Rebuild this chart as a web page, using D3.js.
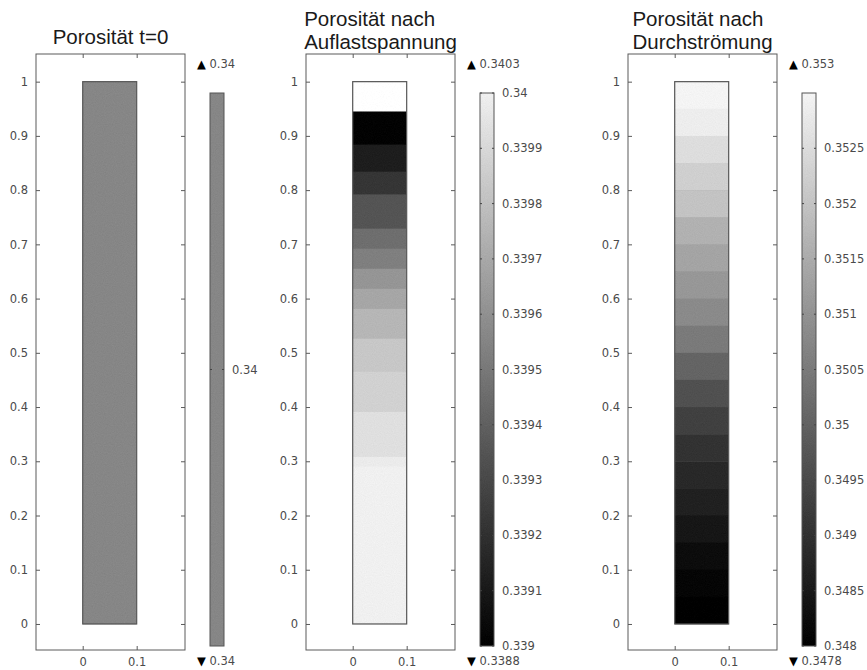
<!DOCTYPE html>
<html><head><meta charset="utf-8">
<script src="https://cdn.jsdelivr.net/npm/d3@7"></script>
<style>
html,body{margin:0;padding:0;background:#fff;}
svg{display:block;}
</style></head>
<body>
<svg id="chart" width="867" height="670"></svg>
<script>
// ---------- data ----------
const titles = [["Porosität t=0"], ["Porosität nach", "Auflastspannung"], ["Porosität nach", "Durchströmung"]];
const yTicks = [0, 0.1, 0.2, 0.3, 0.4, 0.5, 0.6, 0.7, 0.8, 0.9, 1];
const xTicks = [0, 0.1];

// band edges (y, top -> bottom) and porosity values per band
const p1Edges = [1, 0];
const p1Values = [0.34];
const p2Edges = [1, 0.945, 0.884, 0.834, 0.792, 0.729, 0.692, 0.655, 0.618, 0.581, 0.526, 0.465, 0.391, 0.308, 0.29, 0];
const p2Values = [0.3403, 0.33901, 0.33912, 0.33922, 0.33935, 0.33946, 0.33953, 0.33962, 0.33969, 0.33976, 0.33983, 0.33987, 0.33993, 0.33998, 0.3400];
const p3Edges = [1, 0.95, 0.9, 0.85, 0.8, 0.75, 0.7, 0.65, 0.6, 0.55, 0.5, 0.45, 0.4, 0.35, 0.3, 0.25, 0.2, 0.15, 0.1, 0.05, 0];
const p3Values = [0.3530, 0.35285, 0.35253, 0.35224, 0.3520, 0.35163, 0.35137, 0.3511, 0.35082, 0.35049, 0.35004, 0.34963, 0.34931, 0.34902, 0.34882, 0.34865, 0.34845, 0.34825, 0.3481, 0.3480];

// colour bar ranges, ticks, labels
const cb1Domain = [0.3399, 0.3401];
const cb1Ticks = [0.34];
const cb1Labels = ["0.34"];
const cb2Domain = [0.339, 0.34];
const cb2Ticks = [0.339, 0.3391, 0.3392, 0.3393, 0.3394, 0.3395, 0.3396, 0.3397, 0.3398, 0.3399, 0.34];
const cb2Labels = ["0.339", "0.3391", "0.3392", "0.3393", "0.3394", "0.3395", "0.3396", "0.3397", "0.3398", "0.3399", "0.34"];
const cb3Domain = [0.348, 0.353];
const cb3Ticks = [0.348, 0.3485, 0.349, 0.3495, 0.35, 0.3505, 0.351, 0.3515, 0.352, 0.3525];
const cb3Labels = ["0.348", "0.3485", "0.349", "0.3495", "0.35", "0.3505", "0.351", "0.3515", "0.352", "0.3525"];
const maxLabels = ["0.34", "0.3403", "0.353"];
const minLabels = ["0.34", "0.3388", "0.3478"];

// ---------- layout ----------
const svg = d3.select("#chart");
const frameLefts = [36, 306, 628];
const frameW = 149, frameTop = 54, frameBottom = 650;
const cbOffset = 174, cbW = 14, cbTop = 93, cbBottom = 646;
const tickColor = "#4a4a4a";
const frameColor = "#5a5a5a";
const tickFont = 11.5;

const panels = [
  {edges: p1Edges, values: p1Values, cbDomain: cb1Domain, cbTicks: cb1Ticks, cbLabels: cb1Labels,
   color: d3.scaleLinear().domain(cb1Domain).range(["#868686", "#868686"]), uniform: true},
  {edges: p2Edges, values: p2Values, cbDomain: cb2Domain, cbTicks: cb2Ticks, cbLabels: cb2Labels,
   color: d3.scaleLinear().domain(cb2Domain).range(["#000000", "#f0f0f0"]).clamp(true)},
  {edges: p3Edges, values: p3Values, cbDomain: cb3Domain, cbTicks: cb3Ticks, cbLabels: cb3Labels,
   color: d3.scaleLinear().domain(cb3Domain).range(["#000000", "#f4f4f4"]).clamp(true)}
];

const defs = svg.append("defs");
// faint speckle texture like the reference rendering
const nf = defs.append("filter").attr("id", "noise").attr("x", 0).attr("y", 0).attr("width", 1).attr("height", 1)
  .attr("color-interpolation-filters", "sRGB");
nf.append("feTurbulence").attr("type", "fractalNoise").attr("baseFrequency", 0.9).attr("numOctaves", 2).attr("seed", 4).attr("result", "n");
nf.append("feColorMatrix").attr("in", "n").attr("type", "matrix")
  .attr("values", "0.33 0.33 0.33 0 0  0.33 0.33 0.33 0 0  0.33 0.33 0.33 0 0  0 0 0 0 1").attr("result", "ng");
nf.append("feComposite").attr("in", "SourceGraphic").attr("in2", "ng").attr("operator", "arithmetic")
  .attr("k1", 0).attr("k2", 1).attr("k3", 0.08).attr("k4", -0.04).attr("result", "mix");
nf.append("feComposite").attr("in", "mix").attr("in2", "SourceGraphic").attr("operator", "in");

panels.forEach((p, i) => {
  const L = frameLefts[i];
  const x = d3.scaleLinear().domain([-0.0865, 0.1895]).range([L, L + frameW]);
  const y = d3.scaleLinear().domain([-0.048, 1.051]).range([frameBottom, frameTop]);
  const g = svg.append("g");

  // frame
  g.append("rect").attr("x", L).attr("y", frameTop).attr("width", frameW).attr("height", frameBottom - frameTop)
    .attr("fill", "none").attr("stroke", frameColor).attr("stroke-width", 1);

  // axes
  const ax = (sel) => { sel.select(".domain").remove(); sel.selectAll("line").attr("stroke", frameColor);
    sel.selectAll("text").attr("fill", tickColor).attr("font-family", "DejaVu Sans").attr("font-size", tickFont); };
  g.append("g").attr("transform", `translate(${L},0)`)
    .call(d3.axisLeft(y).tickValues(yTicks).tickSize(-4).tickPadding(8).tickFormat(d3.format("~g"))).call(ax);
  g.append("g").attr("transform", `translate(${L + frameW},0)`)
    .call(d3.axisRight(y).tickValues(yTicks).tickSize(-4).tickFormat("")).call(ax);
  g.append("g").attr("transform", `translate(0,${frameTop})`)
    .call(d3.axisTop(x).tickValues(xTicks).tickSize(-4).tickFormat("")).call(ax);
  g.append("g").attr("transform", `translate(0,${frameBottom})`)
    .call(d3.axisBottom(x).tickValues(xTicks).tickSize(-4).tickPadding(8).tickFormat(d3.format("~g"))).call(ax);

  // bands
  const bands = p.values.map((v, k) => ({top: p.edges[k], bot: p.edges[k + 1], v}));
  const dmax = p.cbDomain[1];
  const bg = g.append("g").attr("filter", "url(#noise)");
  bg.selectAll("rect.band").data(bands).join("rect").attr("class", "band")
    .attr("x", x(0)).attr("width", x(0.1) - x(0))
    .attr("y", d => y(d.top)).attr("height", d => y(d.bot) - y(d.top) + 0.5)
    .attr("fill", d => (!p.uniform && d.v > dmax) ? "#ffffff" : p.color(d.v));
  g.append("rect").attr("x", x(0)).attr("y", y(1)).attr("width", x(0.1) - x(0)).attr("height", y(0) - y(1))
    .attr("fill", "none").attr("stroke", "#555").attr("stroke-width", 1.2);

  // title
  const tg = g.append("g");
  const cx = L + frameW / 2;
  const lines = titles[i];
  const baseY = lines.length === 1 ? 44 : 26;
  const texts = tg.selectAll("text").data(lines).join("text")
    .attr("y", (d, k) => baseY + k * 23)
    .attr("font-family", "Liberation Sans, Arial, sans-serif").attr("font-size", 20.5).attr("fill", "#1a1a1a")
    .text(d => d);
  let maxW = 0; texts.each(function () { maxW = Math.max(maxW, this.getComputedTextLength()); });
  texts.attr("x", cx - maxW / 2);

  // colour bar
  const cbL = L + cbOffset;
  const cy = d3.scaleLinear().domain(p.cbDomain).range([cbBottom, cbTop]);
  const gid = "grad" + i;
  const grad = defs.append("linearGradient").attr("id", gid).attr("x1", 0).attr("y1", 1).attr("x2", 0).attr("y2", 0);
  grad.selectAll("stop").data(p.cbDomain).join("stop")
    .attr("offset", (d, k) => k).attr("stop-color", d => p.color(d));
  g.append("rect").attr("x", cbL).attr("y", cy(p.cbDomain[1])).attr("width", cbW).attr("height", cy(p.cbDomain[0]) - cy(p.cbDomain[1]))
    .attr("fill", `url(#${gid})`).attr("filter", "url(#noise)");
  g.append("rect").attr("x", cbL).attr("y", cy(p.cbDomain[1])).attr("width", cbW).attr("height", cy(p.cbDomain[0]) - cy(p.cbDomain[1]))
    .attr("fill", "none").attr("stroke", "#555").attr("stroke-width", 1);
  const tk = g.selectAll("g.cbt").data(p.cbTicks).join("g").attr("class", "cbt")
    .attr("transform", d => `translate(0,${cy(d)})`);
  tk.append("line").attr("x1", cbL).attr("x2", cbL + 2).attr("stroke", "#444");
  tk.append("line").attr("x1", cbL + cbW - 2).attr("x2", cbL + cbW).attr("stroke", "#444");
  tk.append("text").attr("x", cbL + cbW + 8).attr("dy", "0.35em")
    .attr("font-family", "DejaVu Sans").attr("font-size", tickFont).attr("fill", tickColor)
    .text((d, k) => p.cbLabels[k]);

  // max / min indicators
  g.append("text").attr("x", cbL - 13).attr("y", 64).attr("dy", "0.35em")
    .attr("font-family", "DejaVu Sans").attr("font-size", tickFont).attr("fill", tickColor)
    .html(`<tspan fill="#000">▲</tspan> ${maxLabels[i]}`);
  g.append("text").attr("x", cbL - 13).attr("y", 661).attr("dy", "0.35em")
    .attr("font-family", "DejaVu Sans").attr("font-size", tickFont).attr("fill", tickColor)
    .html(`<tspan fill="#000">▼</tspan> ${minLabels[i]}`);
});
</script>
</body></html>
